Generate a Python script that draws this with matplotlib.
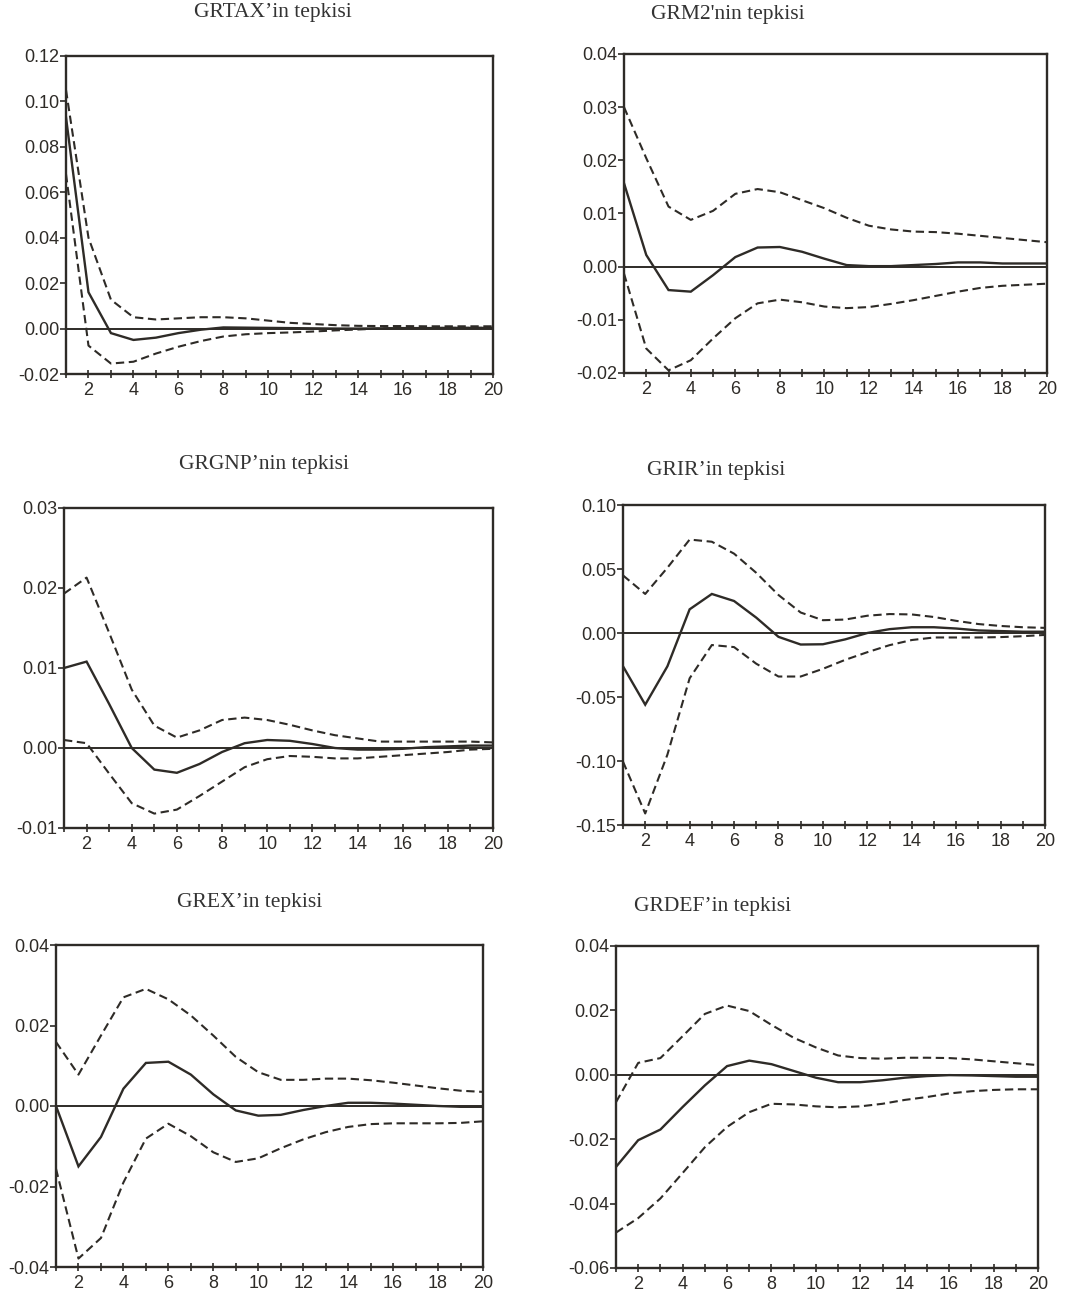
import matplotlib
matplotlib.use("Agg")
import matplotlib.pyplot as plt
from matplotlib.ticker import FormatStrFormatter, MultipleLocator

periods = list(range(1, 21))

# Impulse responses (solid) with upper / lower confidence bands (dashed)
grtax_resp = [0.093, 0.016, -0.002, -0.005, -0.004, -0.002, -0.0005, 0.0005, 0.0004, 0.0003,
              0.0002, 0.0001, 0.0, 0.0, 0.0001, 0.0002, 0.0002, 0.0003, 0.0003, 0.0003]
grtax_up = [0.105, 0.040, 0.0127, 0.005, 0.004, 0.0045, 0.005, 0.005, 0.0045, 0.0035,
            0.0025, 0.002, 0.0015, 0.0012, 0.0011, 0.0011, 0.001, 0.001, 0.001, 0.001]
grtax_lo = [0.068, -0.0075, -0.0154, -0.0146, -0.011, -0.008, -0.0055, -0.0035, -0.0025, -0.002,
            -0.0017, -0.0013, -0.0008, -0.0004, 0.0, 0.0001, 0.0002, 0.0003, 0.0003, 0.0003]

grm2_resp = [0.0157, 0.0022, -0.0044, -0.0047, -0.0016, 0.0018, 0.0036, 0.0037, 0.0028, 0.0015,
             0.0003, 0.0001, 0.0001, 0.0003, 0.0005, 0.0008, 0.0008, 0.0006, 0.0006, 0.0006]
grm2_up = [0.030, 0.0204, 0.0113, 0.0088, 0.0105, 0.0137, 0.0146, 0.014, 0.0125, 0.011,
           0.0092, 0.0077, 0.007, 0.0066, 0.0065, 0.0062, 0.0058, 0.0054, 0.005, 0.0046]
grm2_lo = [-0.0013, -0.0154, -0.0195, -0.0176, -0.0135, -0.0097, -0.0069, -0.0062, -0.0067, -0.0075,
           -0.0078, -0.0076, -0.007, -0.0063, -0.0055, -0.0047, -0.004, -0.0036, -0.0034, -0.0032]

grgnp_resp = [0.010, 0.0108, 0.0055, 0.0, -0.0027, -0.0031, -0.002, -0.0005, 0.0006, 0.001,
              0.0009, 0.0005, 0.0, -0.0002, -0.0002, -0.0001, 0.0001, 0.0002, 0.0003, 0.0003]
grgnp_up = [0.0193, 0.0213, 0.0144, 0.0073, 0.0028, 0.0013, 0.0022, 0.0035, 0.0038, 0.0035,
            0.0029, 0.0022, 0.0016, 0.0012, 0.0008, 0.0008, 0.0008, 0.0008, 0.0008, 0.0007]
grgnp_lo = [0.001, 0.0006, -0.0032, -0.0069, -0.0082, -0.0077, -0.006, -0.0042, -0.0024, -0.0014,
            -0.001, -0.0011, -0.0013, -0.0013, -0.0011, -0.0009, -0.0007, -0.0005, -0.0002, -0.0001]

grir_resp = [-0.026, -0.056, -0.026, 0.0185, 0.0305, 0.025, 0.012, -0.003, -0.009, -0.0088,
             -0.005, 0.0, 0.003, 0.0045, 0.0045, 0.0035, 0.002, 0.0015, 0.001, 0.001]
grir_up = [0.045, 0.0305, 0.051, 0.073, 0.0713, 0.062, 0.047, 0.0297, 0.016, 0.010,
           0.0105, 0.0135, 0.0148, 0.0145, 0.0125, 0.0095, 0.007, 0.0055, 0.0045, 0.004]
grir_lo = [-0.1005, -0.141, -0.095, -0.0354, -0.0094, -0.011, -0.024, -0.034, -0.034, -0.028,
           -0.021, -0.015, -0.0095, -0.0055, -0.0035, -0.0035, -0.0035, -0.0032, -0.0025, -0.0015]

grex_resp = [0.0, -0.015, -0.0077, 0.0043, 0.0107, 0.011, 0.0078, 0.0029, -0.0011, -0.0024,
             -0.0022, -0.001, 0.0, 0.0008, 0.0008, 0.0006, 0.0003, 0.0, -0.0002, -0.0002]
grex_up = [0.0159, 0.0078, 0.0175, 0.027, 0.0291, 0.0265, 0.0225, 0.0175, 0.0122, 0.0084,
           0.0065, 0.0065, 0.0068, 0.0068, 0.0064, 0.0058, 0.0051, 0.0044, 0.0038, 0.0035]
grex_lo = [-0.0156, -0.0379, -0.0328, -0.019, -0.0081, -0.0044, -0.0075, -0.0115, -0.0139, -0.013,
           -0.0105, -0.0083, -0.0065, -0.0052, -0.0045, -0.0043, -0.0043, -0.0043, -0.0042, -0.0038]

grdef_resp = [-0.0286, -0.0203, -0.017, -0.010, -0.0033, 0.0027, 0.0044, 0.0033, 0.0012, -0.0009,
              -0.0023, -0.0023, -0.0017, -0.0009, -0.0004, -0.0001, -0.0002, -0.0004, -0.0006, -0.0006]
grdef_up = [-0.0085, 0.0037, 0.0052, 0.012, 0.0189, 0.0215, 0.0198, 0.0155, 0.0115, 0.0085,
            0.006, 0.0052, 0.005, 0.0053, 0.0053, 0.0052, 0.0048, 0.0042, 0.0036, 0.003]
grdef_lo = [-0.049, -0.0445, -0.0384, -0.0305, -0.0225, -0.0162, -0.0116, -0.009, -0.0092, -0.0098,
            -0.0101, -0.0098, -0.009, -0.0078, -0.0069, -0.0058, -0.0051, -0.0047, -0.0045, -0.0045]

titles = ["GRTAX\u2019in tepkisi", "GRM2'nin tepkisi", "GRGNP\u2019nin tepkisi",
          "GRIR\u2019in tepkisi", "GREX\u2019in tepkisi", "GRDEF\u2019in tepkisi"]
responses = [grtax_resp, grm2_resp, grgnp_resp, grir_resp, grex_resp, grdef_resp]
uppers = [grtax_up, grm2_up, grgnp_up, grir_up, grex_up, grdef_up]
lowers = [grtax_lo, grm2_lo, grgnp_lo, grir_lo, grex_lo, grdef_lo]
y_ranges = [(-0.02, 0.12, 0.02), (-0.02, 0.04, 0.01), (-0.01, 0.03, 0.01),
            (-0.15, 0.10, 0.05), (-0.04, 0.04, 0.02), (-0.06, 0.04, 0.02)]

W, H = 1070, 1301
# panel boxes in pixels: left, right, top, bottom
boxes = [(66, 493, 56, 374), (624, 1047, 54, 373),
         (64, 493, 508, 828), (623, 1045, 505, 825),
         (56, 483, 945, 1267), (616, 1038, 946, 1268)]
title_pos = [(273, 12), (728, 15), (264, 465), (716, 470), (250, 903), (713, 907)]

ink = "#2e2b27"
fig = plt.figure(figsize=(W / 100, H / 100), dpi=100)
fig.patch.set_facecolor("white")

for i in range(6):
    l, r, t, b = boxes[i]
    ax = fig.add_axes([l / W, 1 - b / H, (r - l) / W, (b - t) / H])
    ax.plot(periods, responses[i], color=ink, lw=1.7, solid_joinstyle="miter")
    ax.plot(periods, uppers[i], color=ink, lw=1.5, linestyle=(0, (4, 2.2)))
    ax.plot(periods, lowers[i], color=ink, lw=1.5, linestyle=(0, (4, 2.2)))
    ax.axhline(0, color=ink, lw=1.4)
    ymin, ymax, step = y_ranges[i]
    ax.set_xlim(1, 20)
    ax.set_ylim(ymin, ymax)
    ax.yaxis.set_major_locator(MultipleLocator(step))
    ax.yaxis.set_major_formatter(FormatStrFormatter("%.2f"))
    ax.set_xticks(range(2, 21, 2))
    ax.set_xticks(range(1, 21), minor=True)
    ax.tick_params(axis="x", which="both", direction="inout", length=6, width=1.2,
                   colors=ink, labelsize=13, pad=3)
    ax.tick_params(axis="y", direction="out", length=4, width=1.2, colors=ink,
                   labelsize=13, pad=1)
    for lab in ax.get_xticklabels() + ax.get_yticklabels():
        lab.set_fontfamily("Liberation Sans")
        lab.set_color("#2e2b27")
    for sp in ax.spines.values():
        sp.set_linewidth(1.7)
        sp.set_color(ink)
    tx, ty = title_pos[i]
    fig.text(tx / W, 1 - ty / H, titles[i], ha="center", va="center",
             fontfamily="Liberation Serif", fontsize=15.5, color="#333333")

fig.savefig("out.png", dpi=100, facecolor="white")
